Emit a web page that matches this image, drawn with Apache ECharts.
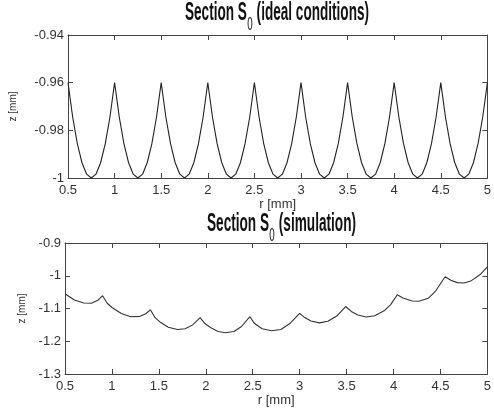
<!DOCTYPE html>
<html>
<head>
<meta charset="utf-8">
<script src="https://cdn.jsdelivr.net/npm/echarts@6/dist/echarts.min.js"></script>
<style>
html,body{margin:0;padding:0;background:#fff;}
#c{width:494px;height:415px;}
</style>
</head>
<body>
<div id="c"></div>
<script>
// ---- data ----
var rIdeal = [0.5,0.55,0.6,0.65,0.7,0.75,0.8,0.85,0.9,0.95,
  1.0,1.05,1.1,1.15,1.2,1.25,1.3,1.35,1.4,1.45,
  1.5,1.55,1.6,1.65,1.7,1.75,1.8,1.85,1.9,1.95,
  2.0,2.05,2.1,2.15,2.2,2.25,2.3,2.35,2.4,2.45,
  2.5,2.55,2.6,2.65,2.7,2.75,2.8,2.85,2.9,2.95,
  3.0,3.05,3.1,3.15,3.2,3.25,3.3,3.35,3.4,3.45,
  3.5,3.55,3.6,3.65,3.7,3.75,3.8,3.85,3.9,3.95,
  4.0,4.05,4.1,4.15,4.2,4.25,4.3,4.35,4.4,4.45,
  4.5,4.55,4.6,4.65,4.7,4.75,4.8,4.85,4.9,4.95,5.0];
var zIdeal = [-0.96,-0.9744,-0.9856,-0.9936,-0.9984,-1.0,-0.9984,-0.9936,-0.9856,-0.9744,
  -0.96,-0.9744,-0.9856,-0.9936,-0.9984,-1.0,-0.9984,-0.9936,-0.9856,-0.9744,
  -0.96,-0.9744,-0.9856,-0.9936,-0.9984,-1.0,-0.9984,-0.9936,-0.9856,-0.9744,
  -0.96,-0.9744,-0.9856,-0.9936,-0.9984,-1.0,-0.9984,-0.9936,-0.9856,-0.9744,
  -0.96,-0.9744,-0.9856,-0.9936,-0.9984,-1.0,-0.9984,-0.9936,-0.9856,-0.9744,
  -0.96,-0.9744,-0.9856,-0.9936,-0.9984,-1.0,-0.9984,-0.9936,-0.9856,-0.9744,
  -0.96,-0.9744,-0.9856,-0.9936,-0.9984,-1.0,-0.9984,-0.9936,-0.9856,-0.9744,
  -0.96,-0.9744,-0.9856,-0.9936,-0.9984,-1.0,-0.9984,-0.9936,-0.9856,-0.9744,
  -0.96,-0.9744,-0.9856,-0.9936,-0.9984,-1.0,-0.9984,-0.9936,-0.9856,-0.9744,-0.96];

var rSim = [0.5,0.6,0.7,0.78,0.85,0.9,
  0.95,1.0,1.1,1.2,1.3,1.36,1.41,
  1.46,1.52,1.6,1.7,1.78,1.86,1.94,
  1.99,2.05,2.13,2.21,2.3,2.38,2.47,
  2.52,2.6,2.7,2.8,2.9,3.0,
  3.05,3.12,3.21,3.3,3.4,3.49,
  3.55,3.62,3.71,3.8,3.9,3.97,4.04,
  4.1,4.2,4.27,4.37,4.45,4.55,
  4.61,4.68,4.75,4.83,4.92,5.0];
var zSim = [-1.055,-1.074,-1.083,-1.084,-1.075,-1.061,
  -1.084,-1.097,-1.115,-1.125,-1.124,-1.116,-1.104,
  -1.128,-1.143,-1.157,-1.164,-1.162,-1.150,-1.128,
  -1.146,-1.158,-1.170,-1.174,-1.170,-1.155,-1.125,
  -1.146,-1.162,-1.168,-1.164,-1.145,-1.115,
  -1.127,-1.138,-1.144,-1.139,-1.122,-1.094,
  -1.109,-1.120,-1.126,-1.122,-1.107,-1.088,-1.058,
  -1.068,-1.077,-1.078,-1.069,-1.046,-1.003,
  -1.014,-1.021,-1.022,-1.015,-0.997,-0.973];

var xTicks = [0.5,1,1.5,2,2.5,3,3.5,4,4.5,5];
var yTicksTop = [-1,-0.98,-0.96,-0.94];
var yTicksBottom = [-1.3,-1.2,-1.1,-1,-0.9];
var titleTop = ['Section S','0',' (ideal conditions)'];
var titleBottom = ['Section S','0',' (simulation)'];
var xName = 'r [mm]';
var yName = 'z [mm]';

// ---- chart ----
var chart = echarts.init(document.getElementById('c'), null, {renderer:'canvas'});
var axisColor = '#444';
var labelColor = '#333';
var FONT = 'Liberation Sans, Arial, sans-serif';
var TFONT = 'Liberation Sans, Arial, sans-serif';
var TSIZE = 25, SSIZE = 18;

var mctx = document.createElement('canvas').getContext('2d');
function tw(text, size, weight){
  mctx.font = (weight||'normal') + ' ' + size + 'px ' + TFONT;
  return mctx.measureText(text).width;
}

function zip(a,b){ var o=[]; for(var i=0;i<a.length;i++) o.push([a[i],b[i]]); return o; }

function xAx(grid, pos, showLabel, nameGap){
  return {
    type:'value', gridIndex:grid, position:pos, min:xTicks[0], max:xTicks[xTicks.length-1], interval:0.5,
    name: showLabel ? xName : '', nameLocation:'middle', nameGap:nameGap,
    nameTextStyle:{color:labelColor, fontSize:13, fontFamily:FONT},
    axisLine:{show:true, onZero:false, lineStyle:{color:axisColor, width:1}},
    axisTick:{show:true, inside:true, length:5, lineStyle:{color:axisColor}},
    axisLabel:{show:showLabel, color:labelColor, fontSize:13, fontFamily:FONT, margin:6, showMinLabel:true, showMaxLabel:true},
    splitLine:{show:false}
  };
}
function yAx(grid, pos, showLabel, ticks, interval, nameGap){
  return {
    type:'value', gridIndex:grid, position:pos, min:ticks[0], max:ticks[ticks.length-1], interval:interval,
    name: showLabel ? yName : '', nameLocation:'middle', nameGap:nameGap, nameRotate:90,
    nameTextStyle:{color:labelColor, fontSize:10, fontFamily:FONT},
    axisLine:{show:true, onZero:false, lineStyle:{color:axisColor, width:1}},
    axisTick:{show:true, inside:true, length:5, lineStyle:{color:axisColor}},
    axisLabel:{show:showLabel, color:labelColor, fontSize:13, fontFamily:FONT, margin:4,
      formatter:function(v){ return String(Math.round(v*100)/100); }},
    splitLine:{show:false}
  };
}

// title made of three text pieces, squeezed horizontally to the width of the original
function titleGroup(parts, left, width, top){
  var w0 = tw(parts[0], TSIZE, 'bold');
  var w1 = tw(parts[1], SSIZE, 'normal');
  var w2 = tw(parts[2], TSIZE, 'bold');
  var s = width / (w0 + w1 + w2 + 1);
  var base = {fontFamily:TFONT, fill:'#111'};
  return {
    type:'group', x:left, y:top, scaleX:s,
    children:[
      {type:'text', x:0, y:0, style:Object.assign({text:parts[0], fontSize:TSIZE, fontWeight:'bold', verticalAlign:'top'}, base)},
      {type:'text', x:w0+0.5, y:15, style:Object.assign({text:parts[1], fontSize:SSIZE, fontWeight:'normal', verticalAlign:'top'}, base)},
      {type:'text', x:w0+w1+1, y:0, style:Object.assign({text:parts[2], fontSize:TSIZE, fontWeight:'bold', verticalAlign:'top'}, base)}
    ]
  };
}

var option = {
  animation:false,
  backgroundColor:'#fff',
  grid:[
    {left:67, top:35, right:1, bottom:237, containLabel:false},
    {left:65, top:243, right:4, bottom:41, containLabel:false}
  ],
  xAxis:[
    xAx(0,'bottom',true,14),
    xAx(0,'top',false,14),
    xAx(1,'bottom',true,18),
    xAx(1,'top',false,18)
  ],
  yAxis:[
    yAx(0,'left',true,yTicksTop,0.02,50),
    yAx(0,'right',false,yTicksTop,0.02,50),
    yAx(1,'left',true,yTicksBottom,0.1,37),
    yAx(1,'right',false,yTicksBottom,0.1,37)
  ],
  series:[
    {type:'line', xAxisIndex:0, yAxisIndex:0, data:zip(rIdeal,zIdeal), showSymbol:false, symbol:'none',
      lineStyle:{color:'#222', width:1.1}, silent:true},
    {type:'line', xAxisIndex:2, yAxisIndex:2, data:zip(rSim,zSim), showSymbol:false, symbol:'none',
      lineStyle:{color:'#333', width:1.1}, silent:true}
  ],
  graphic:[
    titleGroup(titleTop,185,184,1),
    titleGroup(titleBottom,207,149,212)
  ]
};
chart.setOption(option);
</script>
</body>
</html>
